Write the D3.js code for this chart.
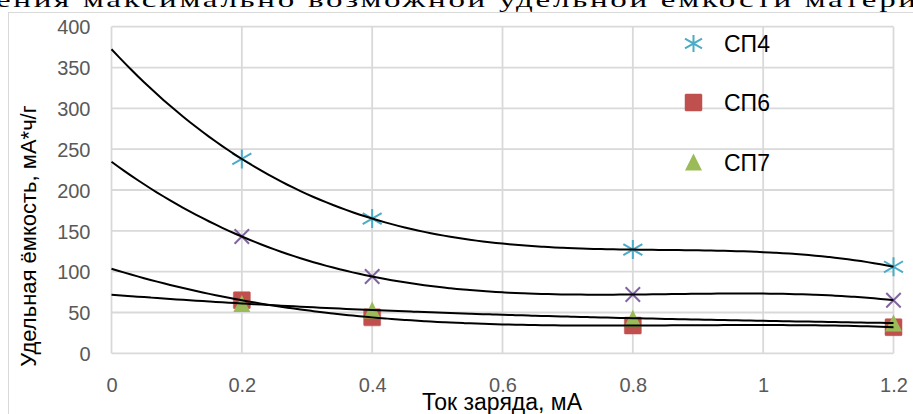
<!DOCTYPE html>
<html><head><meta charset="utf-8">
<script src="https://cdn.jsdelivr.net/npm/d3@7"></script>
<style>
html,body{margin:0;padding:0;background:#fff;overflow:hidden;}
svg{display:block;}
</style></head>
<body>
<svg id="chart" width="913" height="414"></svg>
<script>
// ---- data ----
const xValues = [0.2, 0.4, 0.8, 1.2];
const sp4 = [238, 165, 127, 106];
const spPurple = [143, 94, 72, 65];
const sp6 = [65, 44, 34, 32];
const sp7 = [61, 53, 43, 37];
const xTicks = [0, 0.2, 0.4, 0.6, 0.8, 1, 1.2];
const xTickLabels = ["0", "0.2", "0.4", "0.6", "0.8", "1", "1.2"];
const yTicks = [0, 50, 100, 150, 200, 250, 300, 350, 400];
const legendNames = ["СП4", "СП6", "СП7"];
const xTitle = "Ток заряда, мА";
const yTitle = "Удельная ёмкость, мА*ч/г";
const headerText = "ения максимально возможной удельной ёмкости матери";

const series = [
  {values: sp4, color: "#4bacc6", marker: "star"},
  {values: spPurple, color: "#8064a2", marker: "x"},
  {values: sp6, color: "#c0504d", marker: "square"},
  {values: sp7, color: "#9bbb59", marker: "triangle"}
];

const svg = d3.select("#chart");
const font = "'Liberation Sans', Arial, sans-serif";

// clipped header text from the surrounding document
svg.append("text")
  .attr("transform", "translate(-4,7) scale(1,0.62)")
  .attr("x", 0).attr("y", 0)
  .attr("font-family", "'Liberation Serif', 'Times New Roman', serif")
  .attr("font-size", 33)
  .attr("textLength", 920)
  .attr("fill", "#000")
  .text(headerText);

// chart frame
svg.append("rect").attr("x", 8.5).attr("y", 12.5).attr("width", 960).attr("height", 460)
  .attr("fill", "#fff").attr("stroke", "#d9d9d9").attr("stroke-width", 1);

const x = d3.scaleLinear().domain([0, 1.2]).range([111.5, 893.5]);
const y = d3.scaleLinear().domain([0, 400]).range([353.3, 26.7]);

// gridlines
const g = svg.append("g");
g.selectAll("line.h").data(yTicks).join("line")
  .attr("x1", x(0)).attr("x2", x(1.2)).attr("y1", d => y(d)).attr("y2", d => y(d))
  .attr("stroke", "#d9d9d9").attr("stroke-width", 1.8);
g.selectAll("line.v").data(xTicks).join("line")
  .attr("y1", y(0)).attr("y2", y(400)).attr("x1", d => x(d)).attr("x2", d => x(d))
  .attr("stroke", "#d9d9d9").attr("stroke-width", 1.8);

// axis tick labels via d3 axes
const yAxis = d3.axisLeft(y).tickValues(yTicks).tickSize(0).tickPadding(0);
const ya = svg.append("g").attr("transform", `translate(${x(0) - 21},0)`).call(yAxis);
ya.select(".domain").remove();
ya.selectAll("text").attr("font-family", font).attr("font-size", 20).attr("fill", "#595959").attr("dy", "0.36em");

const xAxis = d3.axisBottom(x).tickValues(xTicks).tickFormat((d, i) => xTickLabels[i]).tickSize(0).tickPadding(0);
const xa = svg.append("g").attr("transform", `translate(0,${y(0) + 24})`).call(xAxis);
xa.select(".domain").remove();
xa.selectAll("text").attr("font-family", font).attr("font-size", 20).attr("fill", "#595959").attr("dy", "0.71em").attr("y", 0);

// axis titles
svg.append("text").attr("x", 502).attr("y", 410).attr("text-anchor", "middle")
  .attr("font-family", font).attr("font-size", 23).attr("fill", "#000").text(xTitle);
svg.append("text").attr("transform", "translate(36,236) rotate(-90)").attr("text-anchor", "middle")
  .attr("font-family", font).attr("font-size", 22).attr("fill", "#000").text(yTitle);

// markers
function drawMarker(sel, type, color, size) {
  const h = size / 2;
  if (type === "star") {
    sel.append("path").attr("d", `M${-h},${-h*0.58}L${h},${h*0.58}M${-h},${h*0.58}L${h},${-h*0.58}M0,${-h}L0,${h}`)
      .attr("stroke", color).attr("stroke-width", 2).attr("fill", "none");
  } else if (type === "x") {
    const p = h * 0.85;
    sel.append("path").attr("d", `M${-p},${-p}L${p},${p}M${-p},${p}L${p},${-p}`)
      .attr("stroke", color).attr("stroke-width", 2).attr("fill", "none");
  } else if (type === "square") {
    sel.append("rect").attr("x", -h).attr("y", -h).attr("width", size).attr("height", size)
      .attr("fill", color).attr("stroke", color).attr("stroke-width", 0.5).attr("rx", 1);
  } else if (type === "triangle") {
    sel.append("path").attr("d", `M0,${-h}L${h},${h}L${-h},${h}Z`).attr("fill", color);
  }
}

series.forEach(s => {
  s.values.forEach((v, i) => {
    const m = svg.append("g").attr("transform", `translate(${x(xValues[i])},${y(v)})`);
    drawMarker(m, s.marker, s.color, s.marker === "star" ? 19 : 17);
  });
});

// cubic polynomial trendlines (exact fit through the four points), extended back to x = 0
function lagrange(xs, ys, t) {
  let sum = 0;
  for (let i = 0; i < xs.length; i++) {
    let l = 1;
    for (let j = 0; j < xs.length; j++) if (j !== i) l *= (t - xs[j]) / (xs[i] - xs[j]);
    sum += l * ys[i];
  }
  return sum;
}
const samples = d3.range(0, 1.2001, 0.01);
const line = d3.line().x(d => x(d[0])).y(d => y(d[1])).curve(d3.curveMonotoneX);
series.forEach(s => {
  const pts = samples.map(t => [t, lagrange(xValues, s.values, t)]);
  svg.append("path").attr("d", line(pts)).attr("fill", "none").attr("stroke", "#000").attr("stroke-width", 2);
});

// legend
const legendSeries = [series[0], series[2], series[3]];
const legendY = [43.5, 102.5, 162];
legendSeries.forEach((s, i) => {
  const m = svg.append("g").attr("transform", `translate(693.5,${legendY[i]})`);
  drawMarker(m, s.marker, s.color, 17);
  svg.append("text").attr("x", 724).attr("y", legendY[i] + 8.5)
    .attr("font-family", font).attr("font-size", 23).attr("fill", "#000").text(legendNames[i]);
});
</script>
</body></html>
